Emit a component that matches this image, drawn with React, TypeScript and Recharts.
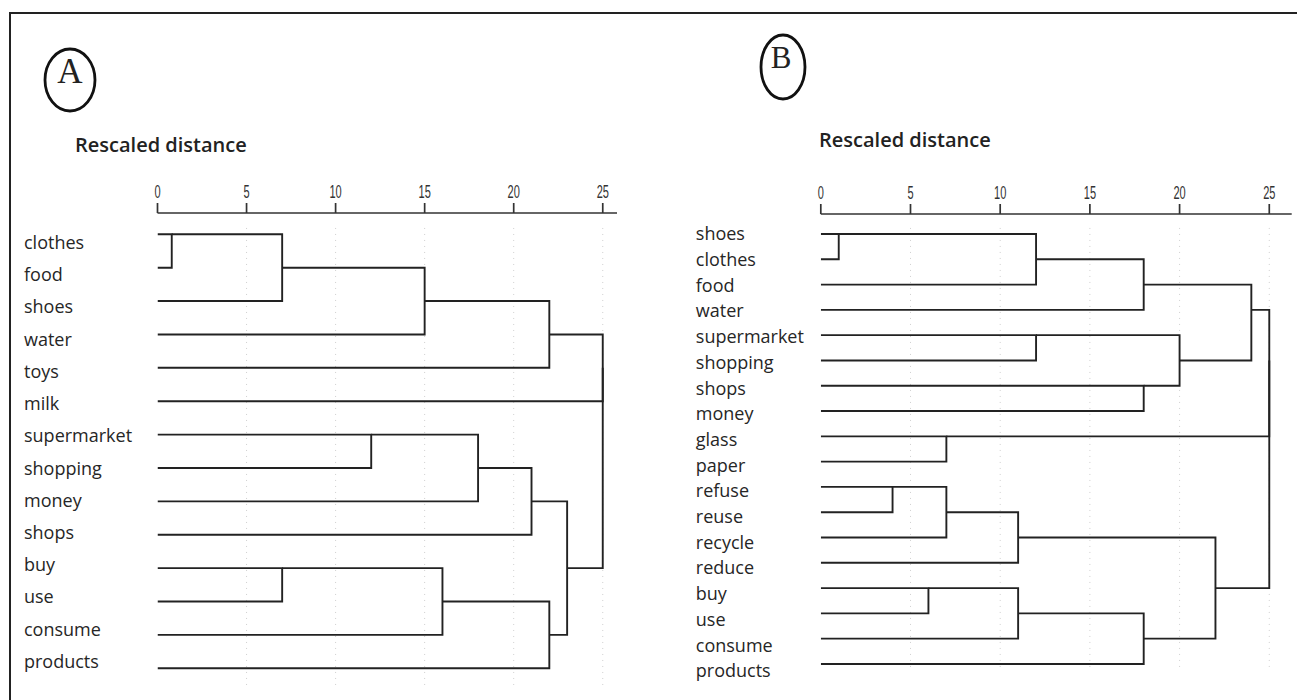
import React from 'react';
import { ScatterChart, Scatter, XAxis, YAxis, ReferenceLine } from 'recharts';

// panel A: leaves top to bottom, then merges as [member of cluster 1, member of cluster 2, rescaled distance]
const leavesA = [
  'clothes', 'food', 'shoes', 'water', 'toys', 'milk', 'supermarket',
  'shopping', 'money', 'shops', 'buy', 'use', 'consume', 'products',
];
const mergesA: [string, string, number][] = [
  ['clothes', 'food', 0.8],
  ['clothes', 'shoes', 7],
  ['clothes', 'water', 15],
  ['clothes', 'toys', 22],
  ['supermarket', 'shopping', 12],
  ['supermarket', 'money', 18],
  ['supermarket', 'shops', 21],
  ['buy', 'use', 7],
  ['buy', 'consume', 16],
  ['buy', 'products', 22],
  ['supermarket', 'buy', 23],
  ['clothes', 'milk', 25],
  ['clothes', 'supermarket', 25],
];

// panel B
const leavesB = [
  'shoes', 'clothes', 'food', 'water', 'supermarket', 'shopping', 'shops',
  'money', 'glass', 'paper', 'refuse', 'reuse', 'recycle', 'reduce', 'buy',
  'use', 'consume', 'products',
];
const mergesB: [string, string, number][] = [
  ['shoes', 'clothes', 1],
  ['shoes', 'food', 12],
  ['shoes', 'water', 18],
  ['supermarket', 'shopping', 12],
  ['shops', 'money', 18],
  ['supermarket', 'shops', 20],
  ['shoes', 'supermarket', 24],
  ['glass', 'paper', 7],
  ['refuse', 'reuse', 4],
  ['refuse', 'recycle', 7],
  ['refuse', 'reduce', 11],
  ['buy', 'use', 6],
  ['buy', 'consume', 11],
  ['buy', 'products', 18],
  ['refuse', 'buy', 22],
  ['shoes', 'glass', 25],
  ['shoes', 'refuse', 25],
];

const distanceTicks = [0, 5, 10, 15, 20, 25];
const gridTicks = [5, 10, 15, 20, 25];

// turn the merge list into elbow polylines (distance, row)
function buildLinks(leaves: string[], merges: [string, string, number][]) {
  const owner: Record<string, string> = {};
  const cluster: Record<string, { y: number; h: number }> = {};
  leaves.forEach((name, i) => {
    owner[name] = name;
    cluster[name] = { y: i, h: 0 };
  });
  return merges.map(([a, b, d]) => {
    const ka = owner[a];
    const kb = owner[b];
    const ca = cluster[ka];
    const cb = cluster[kb];
    const pts = [
      { d: ca.h, r: ca.y },
      { d, r: ca.y },
      { d, r: cb.y },
      { d: cb.h, r: cb.y },
    ];
    cluster[ka] = { y: Math.floor((ca.y + cb.y) / 2), h: d };
    Object.keys(owner).forEach((k) => {
      if (owner[k] === kb) owner[k] = ka;
    });
    return pts;
  });
}

const NoDot = () => <g />;

const DistanceTick = ({ x, y, payload }: any) => (
  <g transform={`translate(${x},${y}) scale(0.58,1)`}>
    <text textAnchor="middle" fontFamily="'Liberation Sans', Arial, sans-serif" fontSize={19} fill="#333">
      {payload.value}
    </text>
  </g>
);

interface DendroProps {
  leaves: string[];
  merges: [string, string, number][];
  width: number;
  margin: { top: number; right: number; bottom: number; left: number };
  axisMax: number;
  rowDomain: [number, number];
  labelDomain: [number, number];
  gridRange: [number, number];
  labelX: number;
}

function Dendrogram({ leaves, merges, width, margin, axisMax, rowDomain, labelDomain, gridRange, labelX }: DendroProps) {
  const links = buildLinks(leaves, merges);
  const rows = leaves.map((_, i) => i);
  const LeafTick = ({ y, payload }: any) => (
    <text x={labelX} y={y} dy="0.35em" fontFamily="'Open Sans', sans-serif" fontSize={18} fill="#262626">
      {leaves[payload.value]}
    </text>
  );
  return (
    <ScatterChart width={width} height={700} margin={margin}>
      <XAxis
        type="number"
        dataKey="d"
        orientation="top"
        domain={[0, axisMax]}
        ticks={distanceTicks}
        interval={0}
        height={30}
        tickSize={10}
        tickMargin={5}
        allowDataOverflow
        axisLine={{ stroke: '#333', strokeWidth: 1.7 }}
        tickLine={{ stroke: '#333', strokeWidth: 1.7 }}
        tick={<DistanceTick />}
      />
      <YAxis yAxisId="rows" type="number" dataKey="r" domain={rowDomain} reversed hide allowDataOverflow />
      <YAxis
        yAxisId="labels"
        type="number"
        dataKey="r"
        domain={labelDomain}
        ticks={rows}
        interval={0}
        reversed
        allowDataOverflow
        width={140}
        axisLine={false}
        tickLine={false}
        tick={<LeafTick />}
      />
      {gridTicks.map((t) => (
        <ReferenceLine
          key={t}
          yAxisId="rows"
          segment={[{ x: t, y: gridRange[0] }, { x: t, y: gridRange[1] }]}
          stroke="#cfcfcf"
          strokeDasharray="1 5"
        />
      ))}
      <Scatter
        yAxisId="labels"
        data={rows.map((r) => ({ d: 0, r }))}
        shape={NoDot}
        isAnimationActive={false}
      />
      {links.map((pts, i) => (
        <Scatter
          key={i}
          yAxisId="rows"
          data={pts}
          line={{ stroke: '#222', strokeWidth: 1.9 }}
          lineType="joint"
          shape={NoDot}
          isAnimationActive={false}
        />
      ))}
    </ScatterChart>
  );
}

export default function App() {
  return (
    <div style={{ position: 'absolute', left: 0, top: 0, width: 1297, height: 700, background: '#fff', overflow: 'hidden' }}>
      <div style={{ position: 'absolute', left: 0, top: 0 }}>
        <Dendrogram
          leaves={leavesA}
          merges={mergesA}
          width={650}
          margin={{ top: 183, right: 33, bottom: 10, left: 17.5 }}
          axisMax={25.8}
          rowDomain={[-0.638, 13.652]}
          labelDomain={[-0.92, 13.88]}
          gridRange={[-0.19, 13.6]}
          labelX={24}
        />
      </div>
      <div style={{ position: 'absolute', left: 650, top: 0 }}>
        <Dendrogram
          leaves={leavesB}
          merges={mergesB}
          width={647}
          margin={{ top: 184, right: 5.3, bottom: 10, left: 30.8 }}
          axisMax={26.25}
          rowDomain={[-0.791, 18.03]}
          labelDomain={[-0.778, 17.74]}
          gridRange={[-0.24, 17.24]}
          labelX={45.8}
        />
      </div>
      <svg width={1297} height={700} style={{ position: 'absolute', left: 0, top: 0, pointerEvents: 'none' }}>
        <path d="M10 700 L10 13 L1297 13" fill="none" stroke="#222" strokeWidth={2} />
        <ellipse cx={70} cy={80} rx={25} ry={31} fill="none" stroke="#111" strokeWidth={2.8} />
        <text x={70} y={83} textAnchor="middle" fontFamily="'Liberation Serif', serif" fontSize={35} fill="#222">A</text>
        <ellipse cx={783} cy={67} rx={22} ry={32} fill="none" stroke="#111" strokeWidth={2.8} />
        <text x={781} y={68} textAnchor="middle" fontFamily="'Liberation Serif', serif" fontSize={31} fill="#222">B</text>
        <text x={75} y={152} fontFamily="'Open Sans', sans-serif" fontWeight={600} fontSize={20} fill="#222">Rescaled distance</text>
        <text x={819} y={147} fontFamily="'Open Sans', sans-serif" fontWeight={600} fontSize={20} fill="#222">Rescaled distance</text>
      </svg>
    </div>
  );
}
